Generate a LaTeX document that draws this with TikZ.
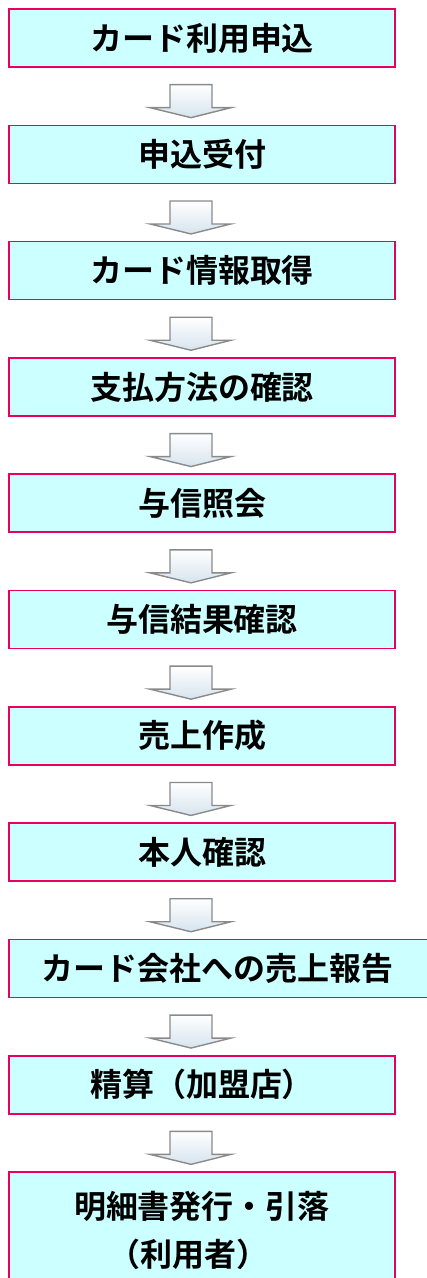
\documentclass[tikz,border=0pt]{standalone}
\usepackage{fontspec}
\newfontfamily\jpfont{Noto Sans CJK JP}[BoldFont={Noto Sans CJK JP Bold}]
\usetikzlibrary{calc}
\definecolor{boxfill}{HTML}{CCFFFF}
\definecolor{boxline}{HTML}{E8005C}
\definecolor{arrowline}{HTML}{8A8A8A}
\definecolor{arrowshade}{HTML}{D6E4EE}
\newcommand\lowered[1]{\raisebox{-4pt}{#1}}
\tikzset{
  stepbox/.style={draw=boxline, line width=1.6pt, fill=boxfill, rectangle,
    minimum height=58pt, inner sep=0pt, font=\jpfont\bfseries\fontsize{32}{48}\selectfont},
  flowarrow/.pic={
    \draw[arrowline, line width=1.4pt, line join=miter, top color=white, bottom color=arrowshade]
      (-21,-16) -- (21,-16) -- (21,7) -- (40,7) -- (0,17) -- (-41,7) -- (-21,7) -- cycle;
  }
}
\begin{document}
\begin{tikzpicture}[x=1pt,y=-1pt]
\useasboundingbox (0,0) rectangle (427,1278);
\clip (0,0) rectangle (427,1278);
\coordinate (A) at (202,38);
\coordinate (B) at (202,154.3);
\coordinate (C) at (202,270.6);
\coordinate (D) at (202,386.9);
\coordinate (E) at (202,503.2);
\coordinate (F) at (202,619.5);
\coordinate (G) at (202,735.8);
\coordinate (H) at (202,852.1);
\coordinate (I) at (224.5,968.4);
\coordinate (J) at (202,1084.7);
\coordinate (K) at (202,1230);

\node[stepbox, minimum width=386pt] (b1) at (A) {\lowered{カード利用申込}};
\node[stepbox, minimum width=386pt] (b2) at (B) {\lowered{申込受付}};
\node[stepbox, minimum width=386pt] (b3) at (C) {\lowered{カード情報取得}};
\node[stepbox, minimum width=386pt] (b4) at (D) {\lowered{支払方法の確認}};
\node[stepbox, minimum width=386pt] (b5) at (E) {\lowered{与信照会}};
\node[stepbox, minimum width=386pt] (b6) at (F) {\lowered{与信結果確認}};
\node[stepbox, minimum width=386pt] (b7) at (G) {\lowered{売上作成}};
\node[stepbox, minimum width=386pt] (b8) at (H) {\lowered{本人確認}};
\node[stepbox, minimum width=431pt] (b9) at (I) {\hspace*{-14pt}\lowered{カード会社への売上報告}};
\node[stepbox, minimum width=386pt] (b10) at (J) {\lowered{精算（加盟店）}};
\node[stepbox, minimum width=386pt, minimum height=116pt, align=center] (b11) at (K)
  {明細書発行・引落\\（利用者）\hspace*{26pt}};

\foreach \i/\j in {1/2,2/3,3/4,4/5,5/6,6/7,7/8,8/9,9/10,10/11}
  \pic at ($(b\i.south -| 191,0)!0.5!(b\j.north -| 191,0) + (0,4.5)$) {flowarrow};
\end{tikzpicture}
\end{document}
